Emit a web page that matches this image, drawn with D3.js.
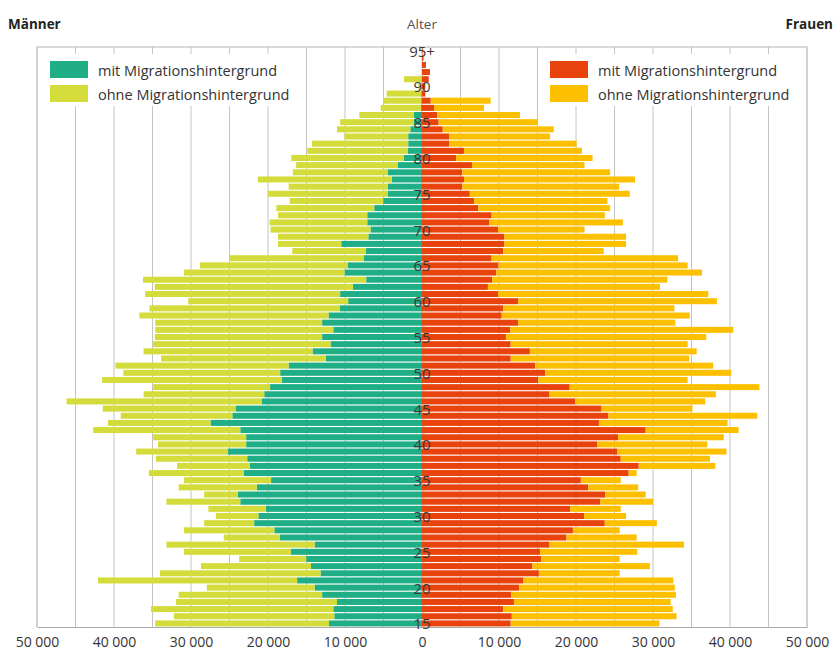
<!DOCTYPE html>
<html>
<head>
<meta charset="utf-8">
<script src="https://cdn.jsdelivr.net/npm/d3@7"></script>
<style>
  body { margin: 0; background: #fff; }
  svg { display: block; font-family: "Open Sans", "Noto Sans", sans-serif; }
</style>
</head>
<body>
<svg id="drawing_region"></svg>
<script>
// Altersgruppen, von 15 bis 95+
const ages = [15, 16, 17, 18, 19, 20, 21, 22, 23, 24, 25, 26, 27, 28, 29, 30, 31, 32, 33, 34,
  35, 36, 37, 38, 39, 40, 41, 42, 43, 44, 45, 46, 47, 48, 49, 50, 51, 52, 53, 54,
  55, 56, 57, 58, 59, 60, 61, 62, 63, 64, 65, 66, 67, 68, 69, 70, 71, 72, 73, 74,
  75, 76, 77, 78, 79, 80, 81, 82, 83, 84, 85, 86, 87, 88, 89, 90, 91, 92, 93, 94, 95];

const ageLabels = ["15", "20", "25", "30", "35", "40", "45", "50", "55", "60", "65", "70", "75", "80", "85", "90", "95+"];

// Männer
const menMit = [12080, 11390, 11520, 11040, 12970, 13940, 16220, 13180, 14420, 15040,
  17040, 13940, 18490, 19180, 21800, 21250, 20290, 23600, 23940, 21460,
  19600, 23180, 22360, 22700, 25250, 22840, 22840, 23600, 27460, 24630,
  24220, 20840, 20490, 19730, 18220, 18420, 17320, 12490, 14210, 11870,
  12970, 11520, 12970, 12140, 10700, 9590, 10630, 8970, 7250, 10070,
  9660, 7590, 7310, 10490, 6970, 6690, 7110, 7110, 6210, 5040,
  4420, 4420, 3930, 4420, 3170, 2350, 1860, 1790, 1790, 1520,
  1040, 1040, 150, 100, 100, 80, 60, 0, 0, 0, 0];
const menOhne = [22560, 20830, 23670, 20910, 18630, 14010, 25870, 20840, 14280, 8700,
  13870, 19250, 7250, 11730, 6490, 5520, 7450, 9590, 4350, 10140,
  11310, 12290, 9450, 11870, 11870, 11450, 12070, 19110, 13320, 14490,
  17250, 25320, 15670, 15180, 23320, 20360, 22490, 21390, 21950, 23040,
  21740, 23120, 21670, 24570, 24700, 20770, 25320, 25740, 28980, 20840,
  19180, 17390, 9530, 8210, 11730, 12980, 12690, 11590, 12700, 12140,
  15590, 12900, 17390, 12350, 13180, 14620, 13040, 12490, 8280, 9520,
  9590, 7100, 5220, 4920, 4490, 400, 2280, 0, 0, 0, 0];

// Frauen
const womenMit = [11520, 11660, 10560, 11940, 11590, 12630, 13180, 15180, 14350, 15460,
  15320, 16560, 18770, 19600, 23740, 21050, 19250, 23180, 23810, 21600,
  20630, 26840, 28150, 25810, 25390, 22770, 25460, 29050, 22980, 24220,
  23320, 19870, 16560, 19180, 15110, 16010, 14700, 11520, 14010, 11520,
  10900, 11450, 12490, 10350, 10560, 12490, 9870, 8560, 9110, 9660,
  9940, 9040, 10560, 10700, 10700, 9870, 8760, 9040, 7310, 6760,
  6210, 5240, 5450, 5240, 6490, 4420, 5450, 3520, 3520, 2690,
  2160, 1990, 1560, 1130, 430, 430, 870, 1040, 520, 200, 100];
const womenOhne = [19320, 21390, 22010, 20350, 21390, 20210, 19460, 10490, 15250, 10210,
  12630, 17460, 9110, 6070, 6760, 5450, 6560, 6840, 5240, 6480,
  5180, 1040, 9940, 11590, 14150, 14280, 13730, 12070, 16700, 19320,
  11800, 16910, 21600, 24640, 19390, 24150, 23110, 23190, 21660, 22980,
  26020, 28980, 20420, 24430, 22220, 25810, 27320, 22350, 22770, 26700,
  24560, 24220, 13040, 15800, 15800, 11240, 17320, 14700, 17120, 17320,
  20770, 20360, 22220, 19190, 14620, 17730, 15320, 16560, 13110, 14420,
  12820, 10740, 6490, 7790, 0, 0, 0, 0, 0, 0, 0];

const xTickValues = [-50000, -40000, -30000, -20000, -10000, 0, 10000, 20000, 30000, 40000, 50000];
const gridValues = [-45000, -40000, -35000, -30000, -25000, -20000, -15000, -10000, -5000, 0,
  5000, 10000, 15000, 20000, 25000, 30000, 35000, 40000, 45000];

const legendMen = ["mit Migrationshintergrund", "ohne Migrationshintergrund"];
const legendWomen = ["mit Migrationshintergrund", "ohne Migrationshintergrund"];

const colors = {
  menMit: "#1fae85",
  menOhne: "#d3dc3a",
  womenMit: "#e8430c",
  womenOhne: "#fdc001"
};

const data = ages.map((a, i) => ({
  age: a,
  menMit: menMit[i], menOhne: menOhne[i],
  womenMit: womenMit[i], womenOhne: womenOhne[i]
}));

const config = {
  width: 834,
  height: 655,
  left: 37, right: 807,
  top: 47, bottom: 627
};

const svg = d3.select("#drawing_region")
  .attr("width", config.width)
  .attr("height", config.height);

const xscale = d3.scaleLinear()
  .domain([-50000, 50000])
  .range([config.left, config.right]);

const yscale = d3.scaleBand()
  .domain(ages.slice().reverse())
  .range([config.top, config.bottom])
  .paddingInner(0.16)
  .paddingOuter(0.08);

// gitterlinien
svg.append("g")
  .selectAll("line")
  .data(gridValues)
  .join("line")
  .attr("x1", d => xscale(d)).attr("x2", d => xscale(d))
  .attr("y1", config.top).attr("y2", config.bottom)
  .attr("stroke", "#c4c4c4")
  .attr("stroke-width", 1);

// rahmen
svg.append("path")
  .attr("d", `M${xscale(-50000)},${config.bottom}V${config.top}H${xscale(50000)}V${config.bottom}`)
  .attr("fill", "none")
  .attr("stroke", "#b4b4b4")
  .attr("stroke-width", 1.2);

// legend boxes cover the grid
svg.append("rect").attr("x", 38).attr("y", 54).attr("width", 265).attr("height", 52).attr("fill", "#fff");
svg.append("rect").attr("x", 545).attr("y", 54).attr("width", 261).attr("height", 52).attr("fill", "#fff");

const bars = svg.append("g");

// Männer: mit innen, ohne außen
bars.selectAll(".menMit")
  .data(data)
  .join("rect")
  .attr("class", "menMit")
  .attr("x", d => xscale(-d.menMit))
  .attr("y", d => yscale(d.age))
  .attr("width", d => xscale(0) - xscale(-d.menMit))
  .attr("height", yscale.bandwidth())
  .attr("fill", colors.menMit);

bars.selectAll(".menOhne")
  .data(data)
  .join("rect")
  .attr("class", "menOhne")
  .attr("x", d => xscale(-(d.menMit + d.menOhne)))
  .attr("y", d => yscale(d.age))
  .attr("width", d => xscale(-d.menMit) - xscale(-(d.menMit + d.menOhne)))
  .attr("height", yscale.bandwidth())
  .attr("fill", colors.menOhne);

// Frauen
bars.selectAll(".womenMit")
  .data(data)
  .join("rect")
  .attr("class", "womenMit")
  .attr("x", xscale(0))
  .attr("y", d => yscale(d.age))
  .attr("width", d => xscale(d.womenMit) - xscale(0))
  .attr("height", yscale.bandwidth())
  .attr("fill", colors.womenMit);

bars.selectAll(".womenOhne")
  .data(data)
  .join("rect")
  .attr("class", "womenOhne")
  .attr("x", d => xscale(d.womenMit))
  .attr("y", d => yscale(d.age))
  .attr("width", d => xscale(d.womenMit + d.womenOhne) - xscale(d.womenMit))
  .attr("height", yscale.bandwidth())
  .attr("fill", colors.womenOhne);

// x-achse
const fmt = v => d3.format(",")(Math.abs(v)).replace(/,/g, " ");
const xaxis = d3.axisBottom(xscale)
  .tickValues(xTickValues)
  .tickSize(0)
  .tickPadding(10)
  .tickFormat(fmt);

svg.append("g")
  .attr("transform", `translate(0, ${config.bottom})`)
  .call(xaxis)
  .call(g => g.select(".domain").attr("stroke", "#aaa").attr("stroke-width", 1.2))
  .call(g => g.selectAll("text")
    .attr("fill", "#333")
    .attr("font-size", 14)
    .attr("font-family", "\"Open Sans\", sans-serif"));

// Altersbeschriftung in der Mitte
svg.append("g")
  .selectAll("text")
  .data(ageLabels)
  .join("text")
  .attr("x", xscale(0))
  .attr("y", d => yscale(parseInt(d)) + yscale.bandwidth() / 2)
  .attr("text-anchor", "middle")
  .attr("dominant-baseline", "central")
  .attr("font-size", 15)
  .attr("fill", "#3a3a3a")
  .text(d => d);

// Kopfzeile
svg.append("text")
  .attr("x", 8).attr("y", 24)
  .attr("dominant-baseline", "central")
  .attr("font-size", 13.5)
  .attr("font-weight", "bold")
  .attr("fill", "#222")
  .text("Männer");

svg.append("text")
  .attr("x", xscale(0)).attr("y", 24)
  .attr("text-anchor", "middle")
  .attr("dominant-baseline", "central")
  .attr("font-size", 13.5)
  .attr("fill", "#555")
  .text("Alter");

svg.append("text")
  .attr("x", 833).attr("y", 24)
  .attr("text-anchor", "end")
  .attr("dominant-baseline", "central")
  .attr("font-size", 13.5)
  .attr("font-weight", "bold")
  .attr("fill", "#222")
  .text("Frauen");

// Legenden
function legend(x, labels, cols) {
  const g = svg.append("g").attr("transform", `translate(${x}, 0)`);
  labels.forEach((t, i) => {
    g.append("rect")
      .attr("x", 0).attr("y", 61 + i * 24)
      .attr("width", 38).attr("height", 17)
      .attr("fill", cols[i]);
    g.append("text")
      .attr("x", 48).attr("y", 70 + i * 24)
      .attr("dominant-baseline", "central")
      .attr("font-size", 14.5)
      .attr("fill", "#333")
      .text(t);
  });
}
legend(50, legendMen, [colors.menMit, colors.menOhne]);
legend(550, legendWomen, [colors.womenMit, colors.womenOhne]);
</script>
</body>
</html>
